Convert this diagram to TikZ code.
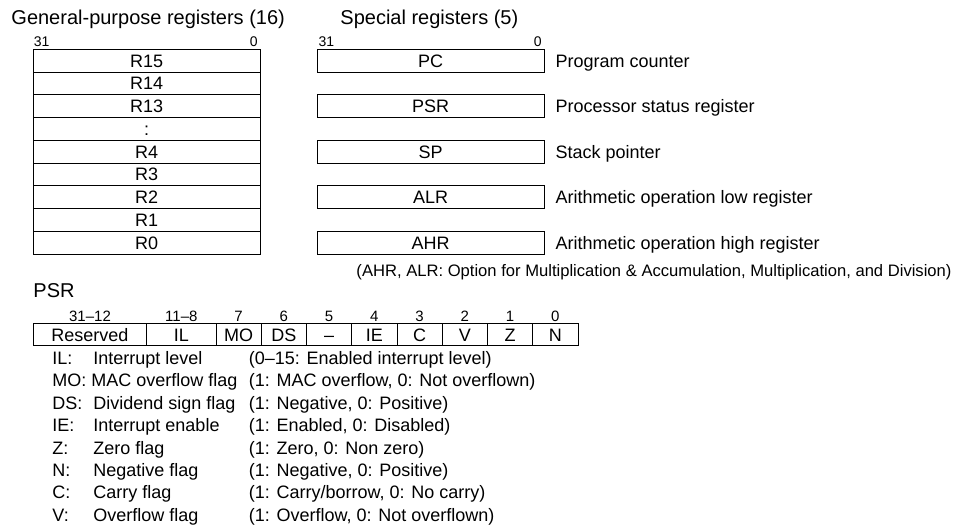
\documentclass[tikz,border=0pt]{standalone}
\usepackage{fontspec}
\setmainfont{Liberation Sans}
\usetikzlibrary{positioning}

\begin{document}
\begin{tikzpicture}[x=1pt, y=-1pt, line width=0.9pt,
  reg/.style={draw, minimum width=226.7pt, minimum height=22.74pt, inner sep=0pt, outer sep=0pt, text height=12.9pt, text depth=0pt, font=\fontsize{18}{20}\selectfont},
  cell/.style={draw, minimum width=45.25pt, minimum height=22pt, inner sep=0pt, outer sep=0pt, text height=12.9pt, text depth=0pt, font=\fontsize{18}{20}\selectfont},
  lbl/.style={inner sep=0pt, font=\fontsize{18}{20}\selectfont},
  head/.style={inner sep=0pt, font=\fontsize{20}{22}\selectfont},
  bitno/.style={inner sep=0pt, font=\fontsize{14}{16}\selectfont}]
\useasboundingbox (0,0) rectangle (960,527);

\node[head, anchor=base west] (gtitle) at (11,25) {General-purpose registers (16)};
\node[head, anchor=base west] (stitle) at (340,25) {Special registers (5)};

% general-purpose registers
\node[reg] (r15) at (146.7,60.7) {R15};
\node[reg, below=0pt of r15] (r14) {R14};
\node[reg, below=0pt of r14] (r13) {R13};
\node[reg, below=0pt of r13] (rdots) {:};
\node[reg, below=0pt of rdots] (r4) {R4};
\node[reg, below=0pt of r4] (r3) {R3};
\node[reg, below=0pt of r3] (r2) {R2};
\node[reg, below=0pt of r2] (r1) {R1};
\node[reg, below=0pt of r1] (r0) {R0};
\node[bitno, above right=2.5pt and 0pt of r15.north west] (g31) {31};
\node[bitno, above left=2.5pt and 2pt of r15.north east] (g0) {0};

% special registers
\node[reg] (pc) at (430.7,60.7) {PC};
\node[reg, below=22.74pt of pc] (psr) {PSR};
\node[reg, below=22.74pt of psr] (sp) {SP};
\node[reg, below=22.74pt of sp] (alr) {ALR};
\node[reg, below=22.74pt of alr] (ahr) {AHR};
\node[bitno, above right=2.5pt and 0.7pt of pc.north west] (s31) {31};
\node[bitno, above left=2.5pt and 2pt of pc.north east] (s0) {0};
\node[lbl, base right=11pt of pc] (pcdesc) {Program counter};
\node[lbl, base right=11pt of psr] (psrdesc) {Processor status register};
\node[lbl, base right=11pt of sp] (spdesc) {Stack pointer};
\node[lbl, base right=11pt of alr] (alrdesc) {Arithmetic operation low register};
\node[lbl, base right=11pt of ahr] (ahrdesc) {Arithmetic operation high register};
\node[lbl, font=\fontsize{16.6}{18}\selectfont, anchor=base east] (note) at (952,276.5) {(AHR, ALR: Option for Multiplication \& Accumulation, Multiplication, and Division)};

% PSR bits
\node[head, anchor=base west] (psrtitle) at (33,297) {PSR};
\node[cell, minimum width=113.4pt] (rsv) at (90,334.7) {Reserved};
\node[cell, minimum width=69.3pt, right=0pt of rsv] (il) {IL};
\node[cell, right=0pt of il] (mo) {MO};
\node[cell, right=0pt of mo] (ds) {DS};
\node[cell, right=0pt of ds] (b5) {–};
\node[cell, right=0pt of b5] (ie) {IE};
\node[cell, right=0pt of ie] (cf) {C};
\node[cell, right=0pt of cf] (vf) {V};
\node[cell, right=0pt of vf] (zf) {Z};
\node[cell, right=0pt of zf] (nf) {N};
\node[bitno, font=\fontsize{15}{17}\selectfont, above=2pt of rsv] {31–12};
\node[bitno, font=\fontsize{15}{17}\selectfont, above=2pt of il] {11–8};
\node[bitno, font=\fontsize{15}{17}\selectfont, above=2pt of mo] {7};
\node[bitno, font=\fontsize{15}{17}\selectfont, above=2pt of ds] {6};
\node[bitno, font=\fontsize{15}{17}\selectfont, above=2pt of b5] {5};
\node[bitno, font=\fontsize{15}{17}\selectfont, above=2pt of ie] {4};
\node[bitno, font=\fontsize{15}{17}\selectfont, above=2pt of cf] {3};
\node[bitno, font=\fontsize{15}{17}\selectfont, above=2pt of vf] {2};
\node[bitno, font=\fontsize{15}{17}\selectfont, above=2pt of zf] {1};
\node[bitno, font=\fontsize{15}{17}\selectfont, above=2pt of nf] {0};

\node[lbl, anchor=north west, align=left, font=\fontsize{18}{22.43}\selectfont] (psrkey) at (52,350.8) {%
\makebox[41pt][l]{IL:}\makebox[155.5pt][l]{Interrupt level}(0–15: Enabled interrupt level)\\
\makebox[196.5pt][l]{MO: MAC overflow flag}(1: MAC overflow, 0: Not overflown)\\
\makebox[41pt][l]{DS:}\makebox[155.5pt][l]{Dividend sign flag}(1: Negative, 0: Positive)\\
\makebox[41pt][l]{IE:}\makebox[155.5pt][l]{Interrupt enable}(1: Enabled, 0: Disabled)\\
\makebox[41pt][l]{Z:}\makebox[155.5pt][l]{Zero flag}(1: Zero, 0: Non zero)\\
\makebox[41pt][l]{N:}\makebox[155.5pt][l]{Negative flag}(1: Negative, 0: Positive)\\
\makebox[41pt][l]{C:}\makebox[155.5pt][l]{Carry flag}(1: Carry/borrow, 0: No carry)\\
\makebox[41pt][l]{V:}\makebox[155.5pt][l]{Overflow flag}(1: Overflow, 0: Not overflown)};

\end{tikzpicture}
\end{document}
